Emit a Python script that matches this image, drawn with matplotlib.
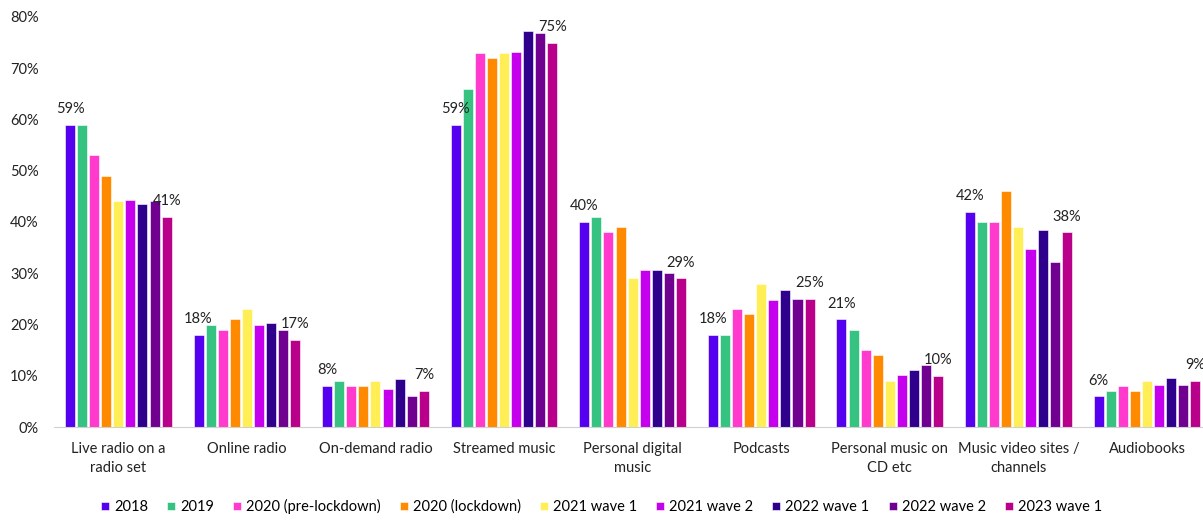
import matplotlib.pyplot as plt
import numpy as np

plt.rcParams['font.family'] = ['Lato', 'DejaVu Sans']

categories = ['Live radio on a\nradio set', 'Online radio', 'On-demand radio', 'Streamed music',
              'Personal digital\nmusic', 'Podcasts', 'Personal music on\nCD etc',
              'Music video sites /\nchannels', 'Audiobooks']
series = ['2018', '2019', '2020 (pre-lockdown)', '2020 (lockdown)', '2021 wave 1',
          '2021 wave 2', '2022 wave 1', '2022 wave 2', '2023 wave 1']
colors = ['#5600F0', '#36C382', '#FF3ACD', '#FF8A00', '#FFEE55',
          '#C400EC', '#2E008C', '#700090', '#B8008A']

# one list per wave, in category order
v2018 = [59, 18, 8, 59, 40, 18, 21, 42, 6]
v2019 = [59, 20, 9, 66, 41, 18, 19, 40, 7]
v2020_pre = [53, 19, 8, 73, 38, 23, 15, 40, 8]
v2020_lock = [49, 21, 8, 72, 39, 22, 14, 46, 7]
v2021_w1 = [44, 23, 9, 73, 29, 28, 9, 39, 9]
v2021_w2 = [44.2, 20, 7.4, 73.1, 30.6, 24.7, 10.2, 34.7, 8.2]
v2022_w1 = [43.6, 20.3, 9.3, 77.3, 30.7, 26.7, 11.1, 38.5, 9.6]
v2022_w2 = [44, 19, 6.1, 76.8, 30, 25, 12.1, 32.1, 8.1]
v2023_w1 = [41, 17, 7, 75, 29, 25, 10, 38, 9]

data = [v2018, v2019, v2020_pre, v2020_lock, v2021_w1, v2021_w2, v2022_w1, v2022_w2, v2023_w1]

fig = plt.figure(figsize=(12.03, 5.21), dpi=100)
ax = fig.add_axes([0.0449, 0.1804, 0.962, 0.7870])

x = np.arange(len(categories))
step = 0.094
width = 0.078
for i, (vals, col, name) in enumerate(zip(data, colors, series)):
    pos = x + (i - 4) * step
    ax.bar(pos, np.array(vals) / 100, width=width, color=col, label=name,
           edgecolor='white', linewidth=0.4)
    if i == 0 or i == len(data) - 1:
        for p, v in zip(pos, vals):
            ax.text(p, v / 100 + 0.017, f'{round(v)}%', ha='center', va='bottom',
                    fontsize=10.5, color='#222222', zorder=10)

ax.set_xlim(-0.5, len(categories) - 0.5)
ax.set_ylim(0, 0.8)
ax.set_yticks(np.arange(0, 0.81, 0.1))
ax.set_yticklabels([f'{int(t * 100)}%' for t in np.arange(0, 0.81, 0.1)], fontsize=10.5)
ax.set_xticks(x)
ax.set_xticklabels(categories, fontsize=10.5, linespacing=1.45)
ax.tick_params(axis='both', length=0, colors='#222222')
ax.tick_params(axis='x', pad=11)
ax.tick_params(axis='y', pad=11)
for s in ['top', 'right', 'left']:
    ax.spines[s].set_visible(False)
ax.spines['bottom'].set_color('#D0D0D0')

fig.legend(loc='lower center', bbox_to_anchor=(0.5, -0.012), ncol=9, frameon=False,
           fontsize=10.5, handlelength=0.55, handleheight=0.55, handletextpad=0.35,
           columnspacing=1.3)

fig.savefig('out.png', dpi=100)
